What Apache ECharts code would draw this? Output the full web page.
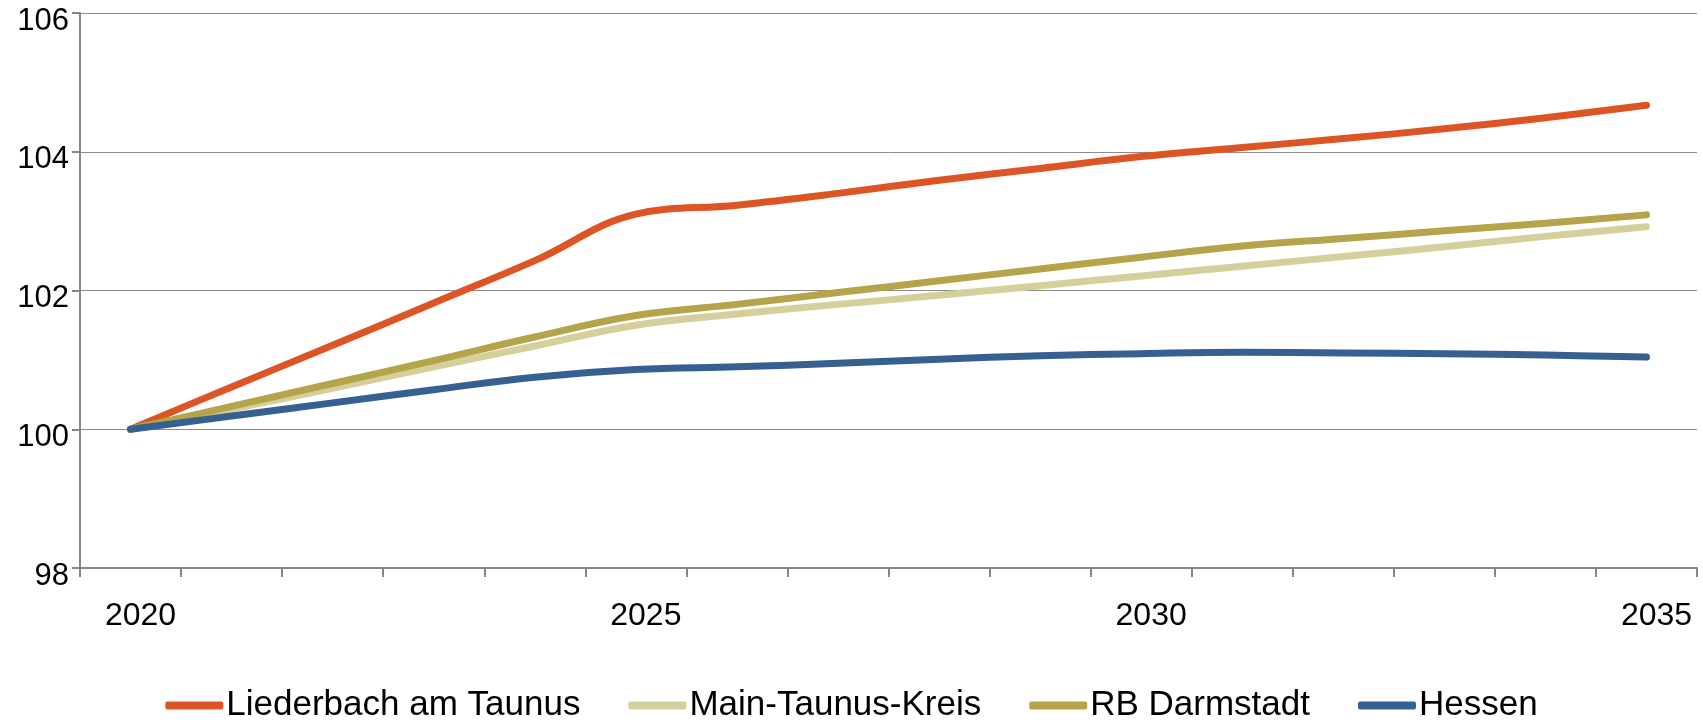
<!DOCTYPE html>
<html>
<head>
<meta charset="utf-8">
<script src="https://cdn.jsdelivr.net/npm/echarts@6/dist/echarts.min.js"></script>
<style>
  html, body { margin: 0; padding: 0; background: #ffffff; }
  #chart { width: 1703px; height: 723px; }
</style>
</head>
<body>
<div id="chart"></div>
<script>
// Bevölkerungsentwicklung, Index 2020 = 100
const years = ['2020','2021','2022','2023','2024','2025','2026','2027','2028','2029','2030','2031','2032','2033','2034','2035'];

const liederbach = [100, 100.61, 101.21, 101.82, 102.43, 103.10, 103.23, 103.40, 103.59, 103.76, 103.93, 104.06, 104.19, 104.33, 104.49, 104.67];
const mainTaunusKreis = [100, 100.29, 100.59, 100.90, 101.20, 101.50, 101.66, 101.80, 101.93, 102.07, 102.21, 102.35, 102.49, 102.63, 102.78, 102.92];
const rbDarmstadt = [100, 100.33, 100.66, 100.99, 101.33, 101.64, 101.80, 101.97, 102.14, 102.31, 102.48, 102.64, 102.75, 102.86, 102.97, 103.09];
const hessen = [100, 100.19, 100.38, 100.57, 100.75, 100.86, 100.90, 100.95, 101.01, 101.06, 101.09, 101.11, 101.10, 101.09, 101.07, 101.04];

const seriesNames = ['Liederbach am Taunus', 'Main-Taunus-Kreis', 'RB Darmstadt', 'Hessen'];
const seriesColors = ['#dd5524', '#d5cf9b', '#b5a449', '#356091'];
const seriesData = [liederbach, mainTaunusKreis, rbDarmstadt, hessen];

const yTicks = { min: 98, max: 106, step: 2 };

const axisGray = '#868686';
const fontFamily = '"Liberation Sans", Arial, Helvetica, sans-serif';

const chart = echarts.init(document.getElementById('chart'), null, { renderer: 'canvas' });

chart.setOption({
  animation: false,
  backgroundColor: '#ffffff',
  grid: { left: 80, right: 6, top: 13, bottom: 155, containLabel: false },
  legend: {
    data: seriesNames,
    left: 'center',
    top: 683,
    icon: 'roundRect',
    itemWidth: 58,
    itemHeight: 8,
    itemGap: 48,
    textStyle: { fontSize: 35, color: '#000000', fontFamily: fontFamily, padding: [10, 0, 0, -2] }
  },
  xAxis: {
    type: 'category',
    data: years,
    boundaryGap: true,
    axisLine: { lineStyle: { color: axisGray, width: 2 } },
    axisTick: { show: true, interval: 0, length: 9, lineStyle: { color: axisGray, width: 2 } },
    axisLabel: {
      interval: 4,
      fontSize: 32,
      color: '#000000',
      fontFamily: fontFamily,
      margin: 32,
      padding: [0, 0, 0, 20]
    },
    splitLine: { show: false }
  },
  yAxis: {
    type: 'value',
    min: yTicks.min,
    max: yTicks.max,
    interval: yTicks.step,
    axisLine: { show: true, lineStyle: { color: axisGray, width: 2 } },
    axisTick: { show: true, length: 8, lineStyle: { color: axisGray, width: 2 } },
    axisLabel: {
      fontSize: 31,
      color: '#000000',
      fontFamily: fontFamily,
      margin: 11,
      verticalAlign: 'top',
      lineHeight: 16
    },
    splitLine: { show: true, lineStyle: { color: '#8c8c8c', width: 1 } }
  },
  series: seriesNames.map((name, i) => ({
    name: name,
    type: 'line',
    data: seriesData[i],
    smooth: 0.4,
    showSymbol: false,
    symbol: 'none',
    color: seriesColors[i],
    lineStyle: { color: seriesColors[i], width: 7, cap: 'round', join: 'round' }
  }))
});
</script>
</body>
</html>
